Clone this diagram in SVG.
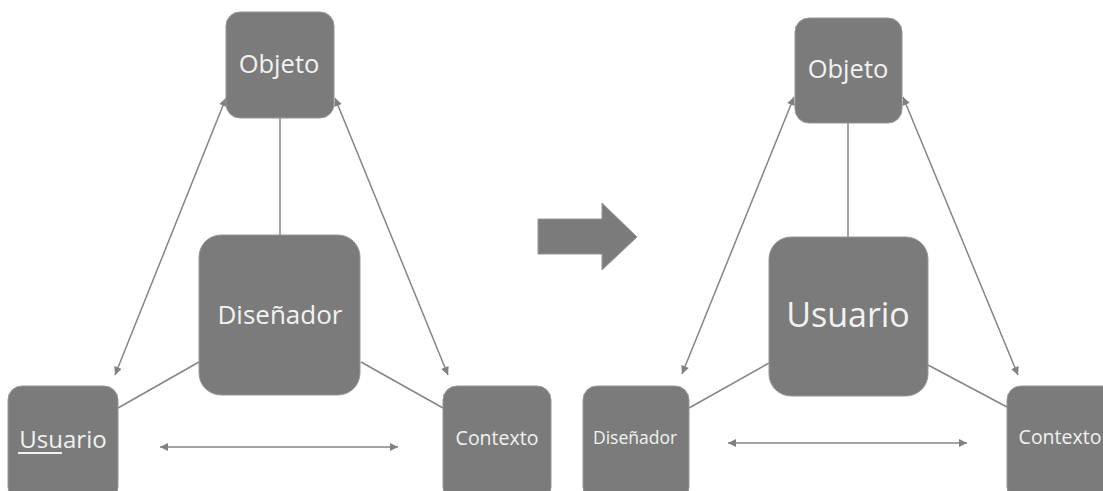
<svg xmlns="http://www.w3.org/2000/svg" width="1103" height="491" viewBox="0 0 1103 491">
<defs>
<marker id="ah" viewBox="0 0 10 10" refX="10" refY="5" markerWidth="9" markerHeight="8" markerUnits="userSpaceOnUse" orient="auto-start-reverse">
<path d="M0,0 L10,5 L0,10 z" fill="#808080"/>
</marker>
<style>
.box{fill:#7b7b7b;stroke:#979797;stroke-width:1}
.t{font-family:"Open Sans","Noto Sans",sans-serif;fill:#f2f2f2;text-anchor:middle}
.ln{stroke:#858585;stroke-width:1.5;fill:none}
.da{marker-start:url(#ah);marker-end:url(#ah)}
</style>
</defs>
<rect width="1103" height="491" fill="#ffffff"/>
<g id="connectors">
<line class="ln da" x1="226" y1="98" x2="115" y2="375"/>
<line class="ln da" x1="335" y1="98" x2="448" y2="375"/>
<line class="ln" x1="280" y1="118" x2="280" y2="235"/>
<line class="ln" x1="199" y1="362" x2="118" y2="408"/>
<line class="ln" x1="361" y1="362" x2="443" y2="408"/>
<line class="ln da" x1="160" y1="447" x2="398" y2="447"/>
<line class="ln da" x1="794" y1="97" x2="682" y2="374"/>
<line class="ln da" x1="903" y1="97" x2="1018" y2="375"/>
<line class="ln" x1="848" y1="123" x2="848" y2="237"/>
<line class="ln" x1="769" y1="363" x2="689" y2="408"/>
<line class="ln" x1="928" y1="365" x2="1007" y2="407"/>
<line class="ln da" x1="728" y1="443" x2="967" y2="443"/>
</g>
<g id="objeto-left"><rect class="box" x="226" y="12" width="108" height="106" rx="14"/><text class="t" x="279" y="73" font-size="25.5">Objeto</text></g>
<g id="disenador-left"><rect class="box" x="199" y="235" width="161" height="160" rx="22"/><text class="t" x="280" y="324" font-size="26">Diseñador</text></g>
<g id="usuario-left"><rect class="box" x="8" y="386" width="110" height="115" rx="14"/><text class="t" x="63" y="448" font-size="24">Usuario</text><line x1="18" y1="453" x2="62" y2="453" stroke="#f2f2f2" stroke-width="2"/></g>
<g id="contexto-left"><rect class="box" x="443" y="386" width="108" height="115" rx="14"/><text class="t" x="497" y="445" font-size="19.5">Contexto</text></g>
<g id="transition-arrow"><polygon points="538,219 602,219 602,203 637,237 602,270 602,254 538,254" fill="#7b7b7b" stroke="#979797" stroke-width="1"/></g>
<g id="objeto-right"><rect class="box" x="795" y="18" width="107" height="105" rx="14"/><text class="t" x="848" y="78" font-size="25.5">Objeto</text></g>
<g id="usuario-right"><rect class="box" x="769" y="237" width="159" height="159" rx="22"/><text class="t" x="848" y="327" font-size="34">Usuario</text></g>
<g id="disenador-right"><rect class="box" x="583" y="386" width="106" height="115" rx="14"/><text class="t" x="635" y="444" font-size="17.5">Diseñador</text></g>
<g id="contexto-right"><rect class="box" x="1007" y="386" width="110" height="115" rx="14"/><text class="t" x="1060" y="444" font-size="19.5">Contexto</text></g>
</svg>
